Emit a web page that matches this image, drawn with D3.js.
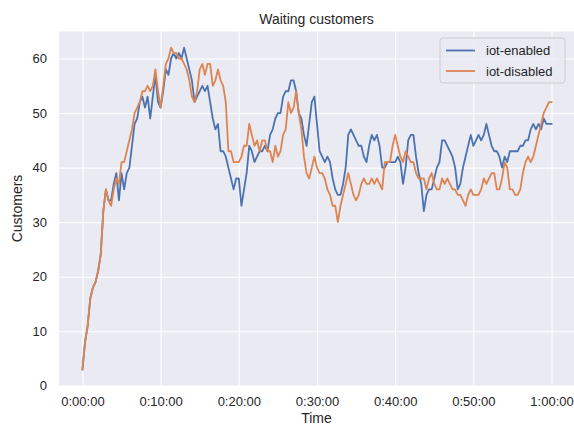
<!DOCTYPE html>
<html><head><meta charset="utf-8">
<script src="https://cdn.jsdelivr.net/npm/d3@7"></script>
<style>
html,body{margin:0;padding:0;background:#fff;}
svg{display:block;font-family:"Liberation Sans",Arial,sans-serif;}
</style></head>
<body>
<svg id="chart" width="574" height="429"></svg>
<script>
// ---- data ----
const title = "Waiting customers";
const xLabel = "Time";
const yLabel = "Customers";
const seriesNames = ["iot-enabled", "iot-disabled"];
const sampleStepSec = 20; // one reading every 20 s, from 0:00:00 to 1:00:00
const xTickSeconds = [0, 600, 1200, 1800, 2400, 3000, 3600];
const yTicks = [0, 10, 20, 30, 40, 50, 60];

const iotEnabled = [
 3, 8, 11, 16, 18, 19, 21, 24, 32, 36, 34, 34, 37, 39, 34, 39, 36, 39, 40, 44,
 48, 49, 52, 53, 51, 53, 49, 53, 57, 52, 51, 54, 58, 57, 60, 61, 60, 61, 60, 62,
 60, 58, 56, 52, 53, 54, 55, 54, 55, 52, 49, 47, 48, 43, 43, 42, 40, 38, 36, 38,
 38, 33, 36, 39, 44, 43, 41, 42, 43, 43, 44, 43, 46, 47, 49, 50, 50, 53, 54, 54,
 56, 56, 54, 50, 49, 46, 44, 48, 52, 53, 48, 43, 42, 41, 42, 41, 38, 36, 35, 35,
 37, 40, 46, 47, 46, 45, 44, 44, 42, 41, 44, 46, 45, 46, 44, 40, 40, 41, 41, 41,
 41, 42, 41, 37, 40, 45, 46, 46, 42, 39, 37, 32, 35, 36, 36, 38, 40, 41, 45, 45,
 44, 43, 42, 40, 36, 37, 40, 42, 44, 46, 44, 45, 46, 45, 46, 48, 46, 44, 43, 43,
 42, 40, 42, 41, 43, 43, 43, 43, 44, 44, 45, 45, 47, 48, 47, 48, 47, 49, 48, 48,
 48
];
const iotDisabled = [
 3, 8, 11, 16, 18, 19, 21, 24, 32, 36, 34, 33, 36, 38, 37, 41, 41, 43, 45, 47,
 50, 51, 52, 54, 54, 55, 54, 55, 58, 54, 51, 55, 59, 60, 62, 61, 61, 60, 60, 59,
 58, 56, 53, 52, 54, 58, 59, 57, 59, 59, 55, 56, 58, 56, 55, 52, 43, 43, 41, 41,
 41, 42, 44, 44, 48, 46, 44, 45, 43, 45, 45, 43, 43, 41, 44, 42, 43, 46, 47, 52,
 50, 51, 54, 50, 47, 42, 39, 38, 40, 42, 40, 39, 39, 38, 36, 35, 33, 33, 30, 33,
 35, 37, 39, 37, 35, 34, 35, 37, 38, 37, 37, 38, 37, 38, 37, 36, 41, 41, 41, 44,
 46, 44, 42, 41, 43, 42, 41, 41, 39, 38, 38, 38, 36, 38, 39, 37, 36, 36, 38, 37,
 38, 37, 36, 36, 35, 35, 34, 33, 35, 36, 35, 35, 35, 36, 38, 37, 38, 39, 39, 36,
 36, 38, 41, 40, 36, 36, 35, 35, 36, 39, 41, 42, 41, 42, 44, 46, 48, 50, 51, 52,
 52
];
const seriesValues = [iotEnabled, iotDisabled];
const seriesColors = ["#4C72B0", "#DD8452"];

// ---- layout ----
const svg = d3.select("#chart");
const plot = {left: 59, right: 575, top: 31.5, bottom: 385.5};

const x = d3.scaleLinear().domain([-180, 3780]).range([plot.left, plot.right]);
const y = d3.scaleLinear().domain([0.05, 64.95]).range([plot.bottom, plot.top]);

function fmt(s){
  const h = Math.floor(s/3600), m = Math.floor((s%3600)/60), sec = s%60;
  return h + ":" + String(m).padStart(2,"0") + ":" + String(sec).padStart(2,"0");
}

// background
svg.append("rect").attr("x", plot.left).attr("y", plot.top)
  .attr("width", plot.right - plot.left).attr("height", plot.bottom - plot.top)
  .attr("fill", "#EAEAF2");

// grid via axes
const gx = svg.append("g").attr("transform", `translate(0,${plot.bottom})`)
  .call(d3.axisBottom(x).tickValues(xTickSeconds).tickFormat(fmt)
        .tickSize(-(plot.bottom - plot.top)).tickPadding(8));
const gy = svg.append("g").attr("transform", `translate(${plot.left},0)`)
  .call(d3.axisLeft(y).tickValues(yTicks).tickFormat(d3.format("d"))
        .tickSize(-(plot.right - plot.left)).tickPadding(12));
[gx, gy].forEach(g => {
  g.select(".domain").remove();
  g.selectAll(".tick line").attr("stroke", "#ffffff").attr("stroke-width", 1.1);
  g.selectAll(".tick text").attr("fill", "#262626").style("font-size", "13px");
});
gx.selectAll(".tick text").attr("dy", "0.95em");

// lines
const times = iotEnabled.map((_, i) => i * sampleStepSec);
const line = d3.line().x((d, i) => x(times[i])).y(d => y(d));
seriesValues.forEach((vals, i) => {
  svg.append("path").datum(vals).attr("d", line)
    .attr("fill", "none").attr("stroke", seriesColors[i])
    .attr("stroke-width", 1.8).attr("stroke-linejoin", "round").attr("stroke-linecap", "square");
});

// title and labels
svg.append("text").attr("x", (plot.left + 574) / 2).attr("y", 24)
  .attr("text-anchor", "middle").attr("fill", "#262626").style("font-size", "14px").text(title);
svg.append("text").attr("x", (plot.left + 574) / 2).attr("y", 423)
  .attr("text-anchor", "middle").attr("fill", "#262626").style("font-size", "14px").text(xLabel);
svg.append("text").attr("transform", `translate(22,${(plot.top + plot.bottom) / 2}) rotate(-90)`)
  .attr("text-anchor", "middle").attr("fill", "#262626").style("font-size", "14px").text(yLabel);

// legend
const lg = svg.append("g").attr("transform", "translate(440,38)");
lg.append("rect").attr("width", 125).attr("height", 45).attr("rx", 3)
  .attr("fill", "#EAEAF2").attr("fill-opacity", 0.8).attr("stroke", "#cccccc").attr("stroke-width", 1);
seriesNames.forEach((n, i) => {
  const yy = 12.5 + i * 20.5;
  lg.append("line").attr("x1", 6).attr("x2", 35).attr("y1", yy).attr("y2", yy)
    .attr("stroke", seriesColors[i]).attr("stroke-width", 1.8);
  lg.append("text").attr("x", 46).attr("y", yy).attr("dy", "0.35em")
    .attr("fill", "#262626").style("font-size", "13px").text(n);
});
</script>
</body></html>
